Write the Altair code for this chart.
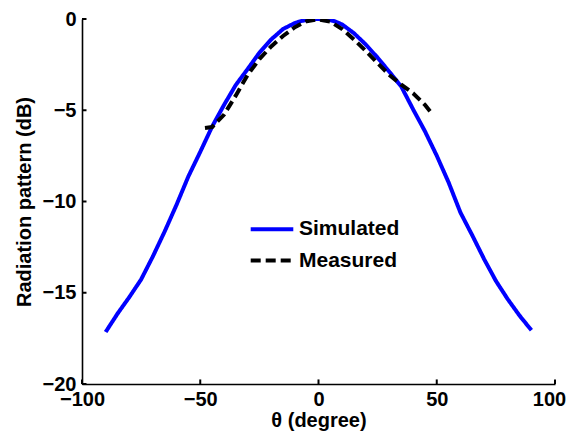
import altair as alt
import pandas as pd

# ---- data ----
sim_theta = [-90, -85, -80, -75, -70, -65, -60, -55, -50, -45, -40, -35, -30, -25, -20, -15, -10, -7, -4, -2, 0,
             2, 4, 7, 10, 15, 20, 25, 30, 35, 40, 45, 50, 55, 60, 65, 70, 75, 80, 85, 90]
sim_db = [-17.15, -16.15, -15.24, -14.27, -13.0, -11.63, -10.17, -8.62, -7.28, -5.9, -4.72, -3.62, -2.75,
          -1.85, -1.12, -0.55, -0.22, -0.1, -0.04, -0.01, 0.0,
          -0.01, -0.04, -0.13, -0.3, -0.78, -1.4, -2.12, -2.9, -3.7, -4.95, -6.15, -7.49, -8.95, -10.6, -11.85,
          -13.15, -14.35, -15.35, -16.25, -17.05]

meas_theta = [-48, -45, -40, -35, -30, -25, -20, -15, -10, -5, 0, 5, 10, 15, 20, 25, 30, 35, 40, 45, 48]
meas_db = [-5.97, -5.92, -5.25, -4.2, -3.07, -2.2, -1.5, -0.93, -0.45, -0.12, -0.02,
           -0.15, -0.55, -1.12, -1.75, -2.42, -3.07, -3.6, -4.07, -4.7, -5.2]

series_names = ["Simulated", "Measured"]
series_colors = ["#0000ff", "#000000"]
series_dash = [[1, 0], [10, 5]]
x_ticks = [-100, -50, 0, 50, 100]
y_ticks = [0, -5, -10, -15, -20]

df = pd.DataFrame({
    "theta": sim_theta + meas_theta,
    "db": sim_db + meas_db,
    "series": [series_names[0]] * len(sim_theta) + [series_names[1]] * len(meas_theta),
})

FONT = "Liberation Sans"
x_scale = alt.Scale(domain=[-100, 100], nice=False, zero=False)
y_scale = alt.Scale(domain=[-20, 0], nice=False, zero=False)
color_scale = alt.Scale(domain=series_names, range=series_colors)
dash_scale = alt.Scale(domain=series_names, range=series_dash)

lines = alt.Chart(df).mark_line(strokeWidth=4, clip=True).encode(
    x=alt.X("theta:Q", scale=x_scale, axis=alt.Axis(
        values=x_ticks, title="θ (degree)", ticks=False, grid=False,
        labelPadding=5, titlePadding=1, format="d", labelFlush=False,
        labelOffset={"condition": {"test": "datum.value == 100", "value": -6}, "value": 0})),
    y=alt.Y("db:Q", scale=y_scale, axis=alt.Axis(
        values=y_ticks, title="Radiation pattern (dB)", ticks=False, grid=False,
        labelPadding=6, titlePadding=8, format="d", labelFlush=False)),
    color=alt.Color("series:N", scale=color_scale, legend=None),
    strokeDash=alt.StrokeDash("series:N", scale=dash_scale, legend=None),
)

# inward-pointing tick marks (MATLAB style)
xt = alt.Chart(pd.DataFrame({"t": x_ticks})).mark_rule(strokeWidth=2, color="black").encode(
    x=alt.X("t:Q", scale=x_scale), y=alt.datum(-20), y2=alt.datum(-19.75))

yt = alt.Chart(pd.DataFrame({"t": y_ticks})).mark_rule(strokeWidth=2, color="black").encode(
    y=alt.Y("t:Q", scale=y_scale), x=alt.datum(-100), x2=alt.datum(-98.1))

# legend (drawn in pixel space inside the plot area)
legend_layers = []
for i, name in enumerate(series_names):
    row_df = pd.DataFrame({"series": [name]})
    ypix = 210.2 + 31.3 * i
    legend_layers.append(alt.Chart(row_df).mark_rule(strokeWidth=4).encode(
        x=alt.value(168.7), x2=alt.value(211.3), y=alt.value(ypix),
        color=alt.Color("series:N", scale=color_scale, legend=None),
        strokeDash=alt.StrokeDash("series:N", scale=dash_scale, legend=None),
    ))
    legend_layers.append(alt.Chart(row_df).mark_text(
        align="left", baseline="middle", font=FONT, fontSize=21,
        fontWeight="bold", color="black").encode(
        x=alt.value(217), y=alt.value(ypix), text="series:N"))

chart = alt.layer(lines, xt, yt, *legend_layers).properties(
    width=473, height=365,
    autosize=alt.AutoSizeParams(type="none"),
    padding={"left": 74, "top": 11, "right": 11, "bottom": 48},
).configure_view(stroke=None).configure_axis(
    domainColor="black", domainWidth=1.6,
    labelFont=FONT, labelFontSize=20, labelFontWeight="bold", labelColor="black",
    titleFont=FONT, titleFontSize=20, titleFontWeight="bold", titleColor="black",
)

chart.save("out.html", embed_options={"renderer": "svg", "actions": False})
